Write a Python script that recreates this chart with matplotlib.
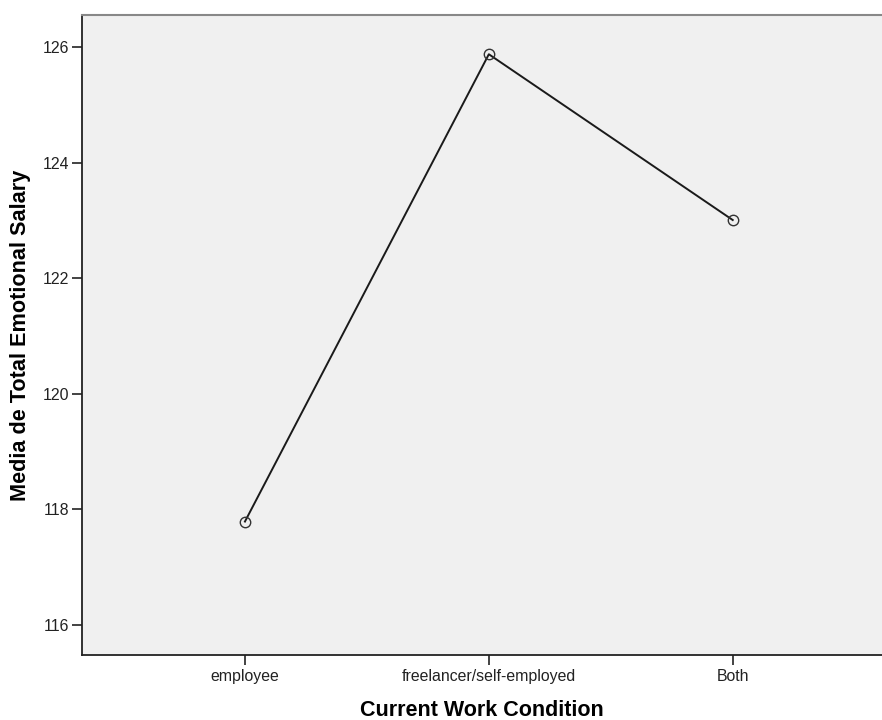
import matplotlib
matplotlib.use("Agg")
import matplotlib.pyplot as plt

# Mean total emotional salary per work condition
conditions = ["employee", "freelancer/self-employed", "Both"]
means = [117.79, 125.88, 123.01]
y_ticks = [116, 118, 120, 122, 124, 126]

plt.rcParams["font.family"] = ["Liberation Sans", "DejaVu Sans"]

fig = plt.figure(figsize=(8.82, 7.2), dpi=100)
ax = fig.add_axes([0.093, 0.0903, 0.907, 0.8889])
ax.set_facecolor("#f0f0f0")

x = list(range(len(conditions)))
ax.plot(x, means, color="#1a1a1a", linewidth=1.4, marker="o",
        markersize=7.5, markerfacecolor="none", markeredgecolor="#333333",
        markeredgewidth=1.0)

ax.set_xlim(-0.668, 2.612)
ax.set_ylim(115.48, 126.56)
ax.set_xticks(x)
ax.set_xticklabels(conditions)
ax.set_yticks(y_ticks)

ax.tick_params(axis="both", direction="out", length=7, width=1.2,
               colors="#222222", labelsize=11.4, pad=2)
ax.tick_params(axis="x", pad=3)

for side in ["left", "bottom"]:
    ax.spines[side].set_color("#222222")
    ax.spines[side].set_linewidth(1.3)
ax.spines["top"].set_color("#888888")
ax.spines["top"].set_linewidth(1.5)
ax.spines["right"].set_visible(False)

ax.set_xlabel("Current Work Condition", fontsize=15.5, fontweight="bold")
ax.set_ylabel("Media de Total Emotional Salary", fontsize=15.6,
              fontweight="bold")
ax.xaxis.label.set_va("center")
ax.yaxis.label.set_va("center")
ax.xaxis.set_label_coords(0.5, -0.086)
ax.yaxis.set_label_coords(-0.0775, 0.5)

fig.savefig("out.png", dpi=100)
